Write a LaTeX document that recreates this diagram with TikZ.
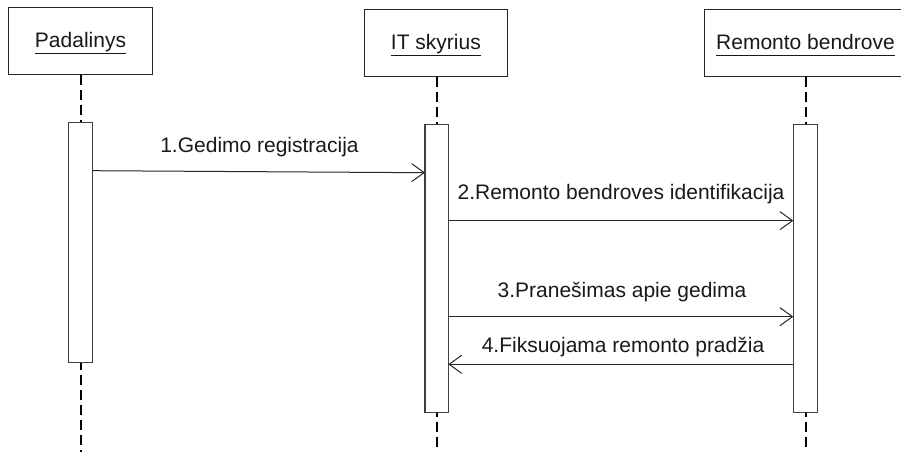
\documentclass[tikz,border=0pt]{standalone}
\usepackage{fontspec}
\setmainfont{Liberation Sans}
\usetikzlibrary{arrows.meta}
% underlined participant name
\newcommand\ulname[1]{\setbox0\hbox{#1}\rlap{\rule[-6.2pt]{\wd0}{1.2pt}}\box0}
\begin{document}
\begin{tikzpicture}[x=1pt,y=-1pt,
  font=\fontsize{21}{25}\selectfont,
  header/.style={draw=black!85, line width=1pt, fill=white, inner sep=0pt},
  activation/.style={draw=black!75, line width=1.3pt, fill=white, inner sep=0pt, minimum width=24pt},
  lifeline/.style={line width=2pt, dash pattern=on 10pt off 5pt},
  msg/.style={line width=1pt, black!85, -{Straight Barb[length=12.5pt,width=18pt,line width=1pt]}},
  msglabel/.style={anchor=base, inner sep=0pt, text=black!90}]
\useasboundingbox (0,0) rectangle (901,452);
\clip (0,0) rectangle (901,452);

% participants
\node[header, minimum width=144.4pt, minimum height=66.7pt] (hdr1) at (80.5,40.7) {};
\node[header, minimum width=143.7pt, minimum height=67.4pt] (hdr2) at (435.9,43) {};
\node[header, minimum width=203pt, minimum height=67.4pt] (hdr3) at (805.5,43) {};
\node[msglabel] (hdr1t) at (80.5,47.7) {\ulname{Padalinys}};
\node[msglabel] (hdr2t) at (435.9,49.7) {\ulname{IT skyrius}};
\node[msglabel] (hdr3t) at (805.5,49.5) {\ulname{Remonto bendrove}};

% lifeline ends
\coordinate (end1) at (80.5,452);
\coordinate (end2) at (436.7,452);
\coordinate (end3) at (805.5,452);
\draw[lifeline] (hdr1.south) -- (end1);
\draw[lifeline] (hdr2.south -| end2) -- (end2);
\draw[lifeline] (hdr3.south) -- (end3);

% activation bars
\node[activation, minimum width=24.4pt, minimum height=239.6pt] (act1) at (80.5,242.5) {};
\node[activation, minimum width=23.3pt, minimum height=288pt] (act2) at (436.7,268.7) {};
\node[activation, minimum width=24.4pt, minimum height=288.4pt] (act3) at (805.5,268.5) {};

% message end points
\coordinate (m1s) at (92.7,170.7);
\coordinate (m1e) at (425,172.7);
\coordinate (m2s) at (448.3,220.7);
\coordinate (m2e) at (793.3,220.7);
\coordinate (m3s) at (448.3,316.7);
\coordinate (m3e) at (793.3,316.7);
\coordinate (m4s) at (793.3,364.3);
\coordinate (m4e) at (448.3,364.3);

% messages
\draw[msg] (m1s) -- (m1e);
\draw[msg] (m2s) -- (m2e);
\draw[msg] (m3s) -- (m3e);
\draw[msg] (m4s) -- (m4e);

\node[msglabel] (l1) at (259.5,152) {1.Gedimo registracija};
\node[msglabel] (l2) at (621,199.3) {2.Remonto bendroves identifikacija};
\node[msglabel] (l3) at (622,297) {3.Pranešimas apie gedima};
\node[msglabel] (l4) at (623,352) {4.Fiksuojama remonto pradžia};
\end{tikzpicture}
\end{document}
